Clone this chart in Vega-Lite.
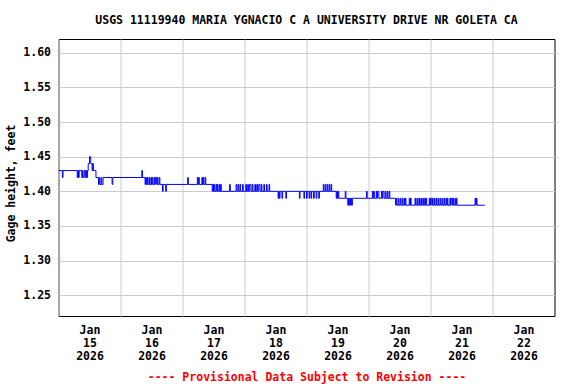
{
  "$schema": "https://vega.github.io/schema/vega-lite/v6.json",
  "width": 496,
  "height": 277,
  "autosize": "none",
  "padding": {"left": 58.5, "top": 39, "right": 21.5, "bottom": 68},
  "background": "white",
  "title": {
    "text": "USGS 11119940 MARIA YGNACIO C A UNIVERSITY DRIVE NR GOLETA CA",
    "font": "DejaVu Sans Mono",
    "fontSize": 11.5,
    "fontWeight": "bold",
    "color": "black",
    "anchor": "middle",
    "offset": 13
  },
  "config": {
    "view": {"stroke": "black", "strokeWidth": 1},
    "axis": {
      "labelFont": "DejaVu Sans Mono",
      "labelFontSize": 11.5,
      "labelFontWeight": "bold",
      "labelColor": "black",
      "titleFont": "DejaVu Sans Mono",
      "titleFontSize": 11.5,
      "titleFontWeight": "bold",
      "titleColor": "black",
      "gridColor": "#cccccc",
      "gridWidth": 1,
      "gridOpacity": 1,
      "ticks": false,
      "domain": false
    }
  },
  "data": {
    "values": [
      {"t": "2026-01-15T00:00", "v": 1.43},
      {"t": "2026-01-15T01:30", "v": 1.42},
      {"t": "2026-01-15T01:45", "v": 1.43},
      {"t": "2026-01-15T07:15", "v": 1.42},
      {"t": "2026-01-15T07:30", "v": 1.43},
      {"t": "2026-01-15T07:45", "v": 1.42},
      {"t": "2026-01-15T08:00", "v": 1.43},
      {"t": "2026-01-15T09:00", "v": 1.42},
      {"t": "2026-01-15T09:15", "v": 1.43},
      {"t": "2026-01-15T09:30", "v": 1.42},
      {"t": "2026-01-15T10:00", "v": 1.43},
      {"t": "2026-01-15T10:30", "v": 1.42},
      {"t": "2026-01-15T10:45", "v": 1.43},
      {"t": "2026-01-15T11:00", "v": 1.42},
      {"t": "2026-01-15T11:15", "v": 1.43},
      {"t": "2026-01-15T11:30", "v": 1.44},
      {"t": "2026-01-15T12:00", "v": 1.45},
      {"t": "2026-01-15T12:30", "v": 1.44},
      {"t": "2026-01-15T13:00", "v": 1.43},
      {"t": "2026-01-15T13:15", "v": 1.44},
      {"t": "2026-01-15T13:30", "v": 1.43},
      {"t": "2026-01-15T14:30", "v": 1.42},
      {"t": "2026-01-15T15:30", "v": 1.41},
      {"t": "2026-01-15T15:45", "v": 1.42},
      {"t": "2026-01-15T16:00", "v": 1.41},
      {"t": "2026-01-15T16:30", "v": 1.42},
      {"t": "2026-01-15T16:45", "v": 1.41},
      {"t": "2026-01-15T17:15", "v": 1.42},
      {"t": "2026-01-15T20:45", "v": 1.41},
      {"t": "2026-01-15T21:00", "v": 1.42},
      {"t": "2026-01-16T08:15", "v": 1.43},
      {"t": "2026-01-16T08:30", "v": 1.42},
      {"t": "2026-01-16T09:30", "v": 1.41},
      {"t": "2026-01-16T09:45", "v": 1.42},
      {"t": "2026-01-16T10:00", "v": 1.41},
      {"t": "2026-01-16T10:15", "v": 1.42},
      {"t": "2026-01-16T10:30", "v": 1.41},
      {"t": "2026-01-16T11:00", "v": 1.42},
      {"t": "2026-01-16T11:15", "v": 1.41},
      {"t": "2026-01-16T11:45", "v": 1.42},
      {"t": "2026-01-16T12:00", "v": 1.41},
      {"t": "2026-01-16T12:15", "v": 1.42},
      {"t": "2026-01-16T12:30", "v": 1.41},
      {"t": "2026-01-16T13:00", "v": 1.42},
      {"t": "2026-01-16T13:15", "v": 1.41},
      {"t": "2026-01-16T13:30", "v": 1.42},
      {"t": "2026-01-16T14:00", "v": 1.41},
      {"t": "2026-01-16T14:15", "v": 1.42},
      {"t": "2026-01-16T14:30", "v": 1.41},
      {"t": "2026-01-16T15:00", "v": 1.42},
      {"t": "2026-01-16T15:15", "v": 1.41},
      {"t": "2026-01-16T16:15", "v": 1.40},
      {"t": "2026-01-16T16:30", "v": 1.41},
      {"t": "2026-01-16T17:30", "v": 1.40},
      {"t": "2026-01-16T17:45", "v": 1.41},
      {"t": "2026-01-17T02:00", "v": 1.42},
      {"t": "2026-01-17T02:15", "v": 1.41},
      {"t": "2026-01-17T05:45", "v": 1.42},
      {"t": "2026-01-17T06:00", "v": 1.41},
      {"t": "2026-01-17T06:15", "v": 1.42},
      {"t": "2026-01-17T06:30", "v": 1.41},
      {"t": "2026-01-17T07:30", "v": 1.42},
      {"t": "2026-01-17T07:45", "v": 1.41},
      {"t": "2026-01-17T08:00", "v": 1.42},
      {"t": "2026-01-17T08:15", "v": 1.41},
      {"t": "2026-01-17T08:45", "v": 1.42},
      {"t": "2026-01-17T09:00", "v": 1.41},
      {"t": "2026-01-17T11:30", "v": 1.40},
      {"t": "2026-01-17T11:45", "v": 1.41},
      {"t": "2026-01-17T12:00", "v": 1.40},
      {"t": "2026-01-17T12:15", "v": 1.41},
      {"t": "2026-01-17T12:30", "v": 1.40},
      {"t": "2026-01-17T13:00", "v": 1.41},
      {"t": "2026-01-17T13:15", "v": 1.40},
      {"t": "2026-01-17T13:30", "v": 1.41},
      {"t": "2026-01-17T13:45", "v": 1.40},
      {"t": "2026-01-17T14:15", "v": 1.41},
      {"t": "2026-01-17T14:30", "v": 1.40},
      {"t": "2026-01-17T14:45", "v": 1.41},
      {"t": "2026-01-17T15:00", "v": 1.40},
      {"t": "2026-01-17T18:15", "v": 1.41},
      {"t": "2026-01-17T18:30", "v": 1.40},
      {"t": "2026-01-17T20:45", "v": 1.41},
      {"t": "2026-01-17T21:00", "v": 1.40},
      {"t": "2026-01-17T21:30", "v": 1.41},
      {"t": "2026-01-17T21:45", "v": 1.40},
      {"t": "2026-01-17T22:15", "v": 1.41},
      {"t": "2026-01-17T22:30", "v": 1.40},
      {"t": "2026-01-17T23:15", "v": 1.41},
      {"t": "2026-01-17T23:30", "v": 1.40},
      {"t": "2026-01-18T00:30", "v": 1.41},
      {"t": "2026-01-18T00:45", "v": 1.40},
      {"t": "2026-01-18T01:15", "v": 1.41},
      {"t": "2026-01-18T01:30", "v": 1.40},
      {"t": "2026-01-18T02:00", "v": 1.41},
      {"t": "2026-01-18T02:30", "v": 1.40},
      {"t": "2026-01-18T03:00", "v": 1.41},
      {"t": "2026-01-18T03:15", "v": 1.40},
      {"t": "2026-01-18T04:00", "v": 1.41},
      {"t": "2026-01-18T04:15", "v": 1.40},
      {"t": "2026-01-18T04:45", "v": 1.41},
      {"t": "2026-01-18T05:00", "v": 1.40},
      {"t": "2026-01-18T05:30", "v": 1.41},
      {"t": "2026-01-18T06:00", "v": 1.40},
      {"t": "2026-01-18T06:30", "v": 1.41},
      {"t": "2026-01-18T06:45", "v": 1.40},
      {"t": "2026-01-18T07:30", "v": 1.41},
      {"t": "2026-01-18T07:45", "v": 1.40},
      {"t": "2026-01-18T08:30", "v": 1.41},
      {"t": "2026-01-18T08:45", "v": 1.40},
      {"t": "2026-01-18T09:30", "v": 1.41},
      {"t": "2026-01-18T09:45", "v": 1.40},
      {"t": "2026-01-18T13:00", "v": 1.39},
      {"t": "2026-01-18T13:15", "v": 1.40},
      {"t": "2026-01-18T13:30", "v": 1.39},
      {"t": "2026-01-18T13:45", "v": 1.40},
      {"t": "2026-01-18T14:30", "v": 1.39},
      {"t": "2026-01-18T14:45", "v": 1.40},
      {"t": "2026-01-18T16:00", "v": 1.39},
      {"t": "2026-01-18T16:15", "v": 1.40},
      {"t": "2026-01-18T21:15", "v": 1.39},
      {"t": "2026-01-18T21:30", "v": 1.40},
      {"t": "2026-01-18T23:00", "v": 1.39},
      {"t": "2026-01-18T23:15", "v": 1.40},
      {"t": "2026-01-19T00:00", "v": 1.39},
      {"t": "2026-01-19T00:15", "v": 1.40},
      {"t": "2026-01-19T01:00", "v": 1.39},
      {"t": "2026-01-19T01:15", "v": 1.40},
      {"t": "2026-01-19T01:45", "v": 1.39},
      {"t": "2026-01-19T02:00", "v": 1.40},
      {"t": "2026-01-19T02:45", "v": 1.39},
      {"t": "2026-01-19T03:00", "v": 1.40},
      {"t": "2026-01-19T03:45", "v": 1.39},
      {"t": "2026-01-19T04:00", "v": 1.40},
      {"t": "2026-01-19T04:45", "v": 1.39},
      {"t": "2026-01-19T05:00", "v": 1.40},
      {"t": "2026-01-19T06:30", "v": 1.41},
      {"t": "2026-01-19T06:45", "v": 1.40},
      {"t": "2026-01-19T07:15", "v": 1.41},
      {"t": "2026-01-19T07:30", "v": 1.40},
      {"t": "2026-01-19T08:00", "v": 1.41},
      {"t": "2026-01-19T08:15", "v": 1.40},
      {"t": "2026-01-19T08:45", "v": 1.41},
      {"t": "2026-01-19T09:00", "v": 1.40},
      {"t": "2026-01-19T09:30", "v": 1.41},
      {"t": "2026-01-19T09:45", "v": 1.40},
      {"t": "2026-01-19T11:30", "v": 1.39},
      {"t": "2026-01-19T11:45", "v": 1.40},
      {"t": "2026-01-19T12:00", "v": 1.39},
      {"t": "2026-01-19T12:15", "v": 1.40},
      {"t": "2026-01-19T12:30", "v": 1.39},
      {"t": "2026-01-19T15:00", "v": 1.40},
      {"t": "2026-01-19T15:15", "v": 1.39},
      {"t": "2026-01-19T16:00", "v": 1.38},
      {"t": "2026-01-19T16:15", "v": 1.39},
      {"t": "2026-01-19T16:30", "v": 1.38},
      {"t": "2026-01-19T16:45", "v": 1.39},
      {"t": "2026-01-19T17:00", "v": 1.38},
      {"t": "2026-01-19T17:15", "v": 1.39},
      {"t": "2026-01-19T17:30", "v": 1.38},
      {"t": "2026-01-19T17:45", "v": 1.39},
      {"t": "2026-01-19T23:15", "v": 1.40},
      {"t": "2026-01-19T23:30", "v": 1.39},
      {"t": "2026-01-20T01:30", "v": 1.40},
      {"t": "2026-01-20T01:45", "v": 1.39},
      {"t": "2026-01-20T02:00", "v": 1.40},
      {"t": "2026-01-20T02:15", "v": 1.39},
      {"t": "2026-01-20T03:00", "v": 1.40},
      {"t": "2026-01-20T03:15", "v": 1.39},
      {"t": "2026-01-20T03:30", "v": 1.40},
      {"t": "2026-01-20T04:00", "v": 1.39},
      {"t": "2026-01-20T05:00", "v": 1.40},
      {"t": "2026-01-20T05:15", "v": 1.39},
      {"t": "2026-01-20T05:30", "v": 1.40},
      {"t": "2026-01-20T06:00", "v": 1.39},
      {"t": "2026-01-20T06:30", "v": 1.40},
      {"t": "2026-01-20T06:45", "v": 1.39},
      {"t": "2026-01-20T07:15", "v": 1.40},
      {"t": "2026-01-20T07:30", "v": 1.39},
      {"t": "2026-01-20T08:00", "v": 1.40},
      {"t": "2026-01-20T08:15", "v": 1.39},
      {"t": "2026-01-20T10:30", "v": 1.38},
      {"t": "2026-01-20T10:45", "v": 1.39},
      {"t": "2026-01-20T11:00", "v": 1.38},
      {"t": "2026-01-20T11:30", "v": 1.39},
      {"t": "2026-01-20T11:45", "v": 1.38},
      {"t": "2026-01-20T12:15", "v": 1.39},
      {"t": "2026-01-20T12:30", "v": 1.38},
      {"t": "2026-01-20T13:00", "v": 1.39},
      {"t": "2026-01-20T13:15", "v": 1.38},
      {"t": "2026-01-20T13:45", "v": 1.39},
      {"t": "2026-01-20T14:00", "v": 1.38},
      {"t": "2026-01-20T14:15", "v": 1.39},
      {"t": "2026-01-20T14:30", "v": 1.38},
      {"t": "2026-01-20T15:45", "v": 1.39},
      {"t": "2026-01-20T16:00", "v": 1.38},
      {"t": "2026-01-20T16:15", "v": 1.39},
      {"t": "2026-01-20T16:30", "v": 1.38},
      {"t": "2026-01-20T18:00", "v": 1.39},
      {"t": "2026-01-20T18:15", "v": 1.38},
      {"t": "2026-01-20T18:45", "v": 1.39},
      {"t": "2026-01-20T19:00", "v": 1.38},
      {"t": "2026-01-20T19:30", "v": 1.39},
      {"t": "2026-01-20T19:45", "v": 1.38},
      {"t": "2026-01-20T20:15", "v": 1.39},
      {"t": "2026-01-20T20:30", "v": 1.38},
      {"t": "2026-01-20T21:00", "v": 1.39},
      {"t": "2026-01-20T21:15", "v": 1.38},
      {"t": "2026-01-20T21:45", "v": 1.39},
      {"t": "2026-01-20T22:00", "v": 1.38},
      {"t": "2026-01-20T22:15", "v": 1.39},
      {"t": "2026-01-20T22:30", "v": 1.38},
      {"t": "2026-01-20T23:30", "v": 1.39},
      {"t": "2026-01-20T23:45", "v": 1.38},
      {"t": "2026-01-21T00:00", "v": 1.39},
      {"t": "2026-01-21T00:30", "v": 1.38},
      {"t": "2026-01-21T00:45", "v": 1.39},
      {"t": "2026-01-21T01:00", "v": 1.38},
      {"t": "2026-01-21T01:30", "v": 1.39},
      {"t": "2026-01-21T01:45", "v": 1.38},
      {"t": "2026-01-21T02:15", "v": 1.39},
      {"t": "2026-01-21T02:30", "v": 1.38},
      {"t": "2026-01-21T03:00", "v": 1.39},
      {"t": "2026-01-21T03:15", "v": 1.38},
      {"t": "2026-01-21T03:45", "v": 1.39},
      {"t": "2026-01-21T04:00", "v": 1.38},
      {"t": "2026-01-21T04:30", "v": 1.39},
      {"t": "2026-01-21T04:45", "v": 1.38},
      {"t": "2026-01-21T05:15", "v": 1.39},
      {"t": "2026-01-21T05:30", "v": 1.38},
      {"t": "2026-01-21T06:00", "v": 1.39},
      {"t": "2026-01-21T06:15", "v": 1.38},
      {"t": "2026-01-21T06:30", "v": 1.39},
      {"t": "2026-01-21T06:45", "v": 1.38},
      {"t": "2026-01-21T07:30", "v": 1.39},
      {"t": "2026-01-21T07:45", "v": 1.38},
      {"t": "2026-01-21T08:00", "v": 1.39},
      {"t": "2026-01-21T08:30", "v": 1.38},
      {"t": "2026-01-21T08:45", "v": 1.39},
      {"t": "2026-01-21T09:00", "v": 1.38},
      {"t": "2026-01-21T09:30", "v": 1.39},
      {"t": "2026-01-21T09:45", "v": 1.38},
      {"t": "2026-01-21T10:00", "v": 1.39},
      {"t": "2026-01-21T10:15", "v": 1.38},
      {"t": "2026-01-21T17:15", "v": 1.39},
      {"t": "2026-01-21T17:30", "v": 1.38},
      {"t": "2026-01-21T17:45", "v": 1.39},
      {"t": "2026-01-21T18:00", "v": 1.38},
      {"t": "2026-01-21T21:00", "v": 1.38}
    ]
  },
  "mark": {"type": "line", "interpolate": "step-after", "color": "#0000ff", "strokeWidth": 1, "clip": true},
  "encoding": {
    "x": {
      "field": "t",
      "type": "temporal",
      "scale": {
        "domain": [
          {"year": 2026, "month": 1, "date": 15},
          {"year": 2026, "month": 1, "date": 23}
        ]
      },
      "axis": {
        "values": [
          {"year": 2026, "month": 1, "date": 15},
          {"year": 2026, "month": 1, "date": 16},
          {"year": 2026, "month": 1, "date": 17},
          {"year": 2026, "month": 1, "date": 18},
          {"year": 2026, "month": 1, "date": 19},
          {"year": 2026, "month": 1, "date": 20},
          {"year": 2026, "month": 1, "date": 21},
          {"year": 2026, "month": 1, "date": 22}
        ],
        "labelExpr": "[timeFormat(datum.value, '%b'), timeFormat(datum.value, '%d'), timeFormat(datum.value, '%Y')]",
        "labelOffset": 31,
        "labelAlign": "center",
        "labelBaseline": "top",
        "labelLineHeight": 13,
        "labelPadding": 8,
        "labelOverlap": false,
        "labelBound": false,
        "labelFlush": false,
        "grid": true,
        "title": "---- Provisional Data Subject to Revision ----",
        "titleColor": "#ff0000",
        "titlePadding": 10
      }
    },
    "y": {
      "field": "v",
      "type": "quantitative",
      "scale": {"domain": [1.22, 1.62], "nice": false, "zero": false},
      "axis": {
        "values": [1.25, 1.3, 1.35, 1.4, 1.45, 1.5, 1.55, 1.6],
        "format": ".2f",
        "labelPadding": 8,
        "grid": true,
        "title": "Gage height, feet",
        "titlePadding": 6,
        "titleY": 144
      }
    }
  }
}
